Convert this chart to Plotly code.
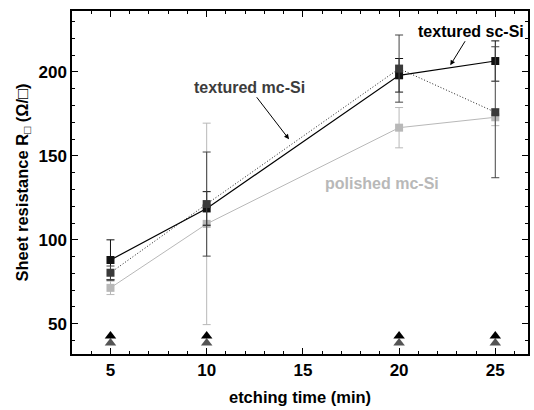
import plotly.graph_objects as go

# Data
etch_time = [5, 10, 20, 25]

sc_textured = [88, 118.7, 198, 206.5]
sc_textured_err = [12, 10, 10, 12]

mc_textured = [80.4, 121.3, 202, 176]
mc_textured_err = [4, 31, 20, 39]

mc_polished = [71.4, 109.5, 166.8, 173]
mc_polished_err = [4, 60, 12, 5]

ref_black = [42.7, 42.7, 42.7, 42.7]
ref_gray = [38.6, 38.6, 38.6, 38.6]

FONT = "Arial, Liberation Sans, sans-serif"
LIGHT = "#b8b8b8"
DARK = "#3a3a3a"

fig = go.Figure()

fig.add_trace(go.Scatter(
    x=etch_time, y=mc_polished, mode="lines+markers",
    line=dict(color=LIGHT, width=1),
    marker=dict(symbol="square", size=8, color=LIGHT),
    error_y=dict(type="data", array=mc_polished_err, color=LIGHT, thickness=1, width=4),
    showlegend=False))

fig.add_trace(go.Scatter(
    x=etch_time, y=sc_textured, mode="lines+markers",
    line=dict(color="black", width=1.2),
    marker=dict(symbol="square", size=8, color="#111111"),
    error_y=dict(type="data", array=sc_textured_err, color="#111111", thickness=1, width=4),
    showlegend=False))

fig.add_trace(go.Scatter(
    x=etch_time, y=mc_textured, mode="lines+markers",
    line=dict(color="#222222", width=1, dash="1px,2px"),
    marker=dict(symbol="square", size=8, color=DARK),
    error_y=dict(type="data", array=mc_textured_err, color="#444444", thickness=1, width=4),
    showlegend=False))

fig.add_trace(go.Scatter(
    x=etch_time, y=ref_gray, mode="markers",
    marker=dict(symbol="triangle-up", size=10, color="#555555"),
    showlegend=False))
fig.add_trace(go.Scatter(
    x=etch_time, y=ref_black, mode="markers",
    marker=dict(symbol="triangle-up", size=10, color="black"),
    showlegend=False))

axis_common = dict(
    showline=True, linecolor="black", linewidth=1.5, mirror="allticks",
    ticks="inside", ticklen=6, tickwidth=1.2, tickcolor="black",
    showgrid=False, zeroline=False,
    tickfont=dict(family=FONT, size=17, color="black", weight="bold"),
)

fig.update_xaxes(
    range=[3, 26.7], tickvals=[5, 10, 15, 20, 25],
    minor=dict(dtick=1, tick0=0, ticks="inside", ticklen=3, tickcolor="black", tickwidth=1, showgrid=False),
    title=dict(text="etching time (min)", font=dict(family=FONT, size=16.5, color="black", weight="bold"), standoff=12),
    **axis_common)
fig.update_yaxes(
    range=[32, 236.3], tickvals=[50, 100, 150, 200],
    minor=dict(dtick=10, tick0=0, ticks="inside", ticklen=3, tickcolor="black", tickwidth=1, showgrid=False),
    title=dict(text="Sheet resistance R<sub>\u25a1</sub> (\u03a9/\u25a1)", font=dict(family=FONT, size=16.5, color="black", weight="bold"), standoff=6),
    **axis_common)

ann_font = dict(family=FONT, size=16, weight="bold")
fig.add_annotation(x=14.28, y=159.9, text="textured mc-Si", showarrow=True, ax=-40, ay=-52,
                   arrowhead=2, arrowsize=1, arrowwidth=1, arrowcolor="black",
                   font=dict(color="#3c3c3c", **ann_font))
fig.add_annotation(x=22.66, y=204.0, text="textured sc-Si", showarrow=True, ax=21, ay=-34,
                   arrowhead=2, arrowsize=1, arrowwidth=1, arrowcolor="black",
                   font=dict(color="black", **ann_font))
fig.add_annotation(x=19.1, y=133.6, text="polished mc-Si", showarrow=False,
                   font=dict(color=LIGHT, **ann_font))

fig.update_layout(
    width=534, height=410,
    margin=dict(l=72, r=4, t=11, b=56),
    paper_bgcolor="white", plot_bgcolor="white",
    font=dict(family=FONT),
)

fig.write_html("out.html")
